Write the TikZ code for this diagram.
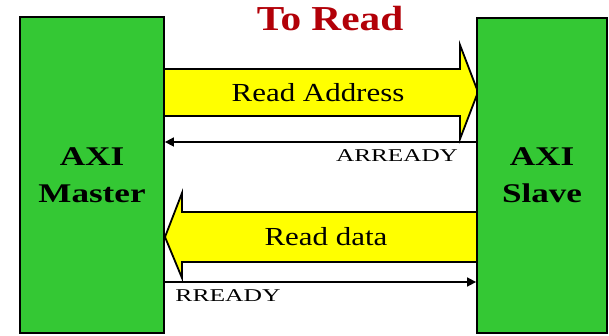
\documentclass[tikz,border=0pt]{standalone}
\usepackage{fontspec}
\setmainfont{Liberation Serif}
\usetikzlibrary{arrows.meta,calc}
\definecolor{boxgreen}{RGB}{52,200,52}
\definecolor{titlered}{RGB}{178,0,8}
\definecolor{fatyellow}{RGB}{255,255,0}
\tikzset{
  unit/.style={draw=black, line width=1.8pt, fill=boxgreen, inner sep=0pt,
    align=center, font=\bfseries\fontsize{27}{37}\selectfont},
  fatarrow/.style={draw=black, line width=1.8pt, fill=fatyellow, line join=miter},
  fatlabel/.style={font=\fontsize{26}{30}\selectfont, inner sep=0pt},
  signal/.style={draw=black, line width=1.6pt, -{Triangle[length=9pt,width=9pt]}},
  siglabel/.style={font=\fontsize{18}{20}\selectfont, inner sep=0pt},
}
\begin{document}
\begin{tikzpicture}[x=1pt,y=-1pt]
\useasboundingbox (0,0) rectangle (609,336);
% fat arrows (behind boxes)
\coordinate (ra1) at (165,69);
\coordinate (ra2) at (460,69);
\coordinate (ra3) at (460,45);
\coordinate (ra4) at (478,92);
\coordinate (ra5) at (460,139);
\coordinate (ra6) at (460,116);
\coordinate (ra7) at (165,116);
\draw[fatarrow] (ra1) -- (ra2) -- (ra3) -- (ra4) -- (ra5) -- (ra6) -- (ra7);
\coordinate (rd1) at (477,212);
\coordinate (rd2) at (182,212);
\coordinate (rd3) at (182,193);
\coordinate (rd4) at (165,237);
\coordinate (rd5) at (182,278);
\coordinate (rd6) at (182,262);
\coordinate (rd7) at (477,262);
\draw[fatarrow] (rd1) -- (rd2) -- (rd3) -- (rd4) -- (rd5) -- (rd6) -- (rd7);
% boxes
\node[unit, minimum width=144pt, minimum height=316pt] (master) at (92,175)
  {\scalebox{1.3}[1]{AXI}\\\scalebox{1.3}[1]{Master}};
\node[unit, minimum width=130pt, minimum height=315pt] (slave) at (542,175.5)
  {\scalebox{1.3}[1]{AXI}\\\scalebox{1.3}[1]{Slave}};
% title
\node[font=\bfseries\fontsize{35}{40}\selectfont, text=titlered, inner sep=0pt] (title) at (330,19)
  {\scalebox{1.18}[1]{To Read}};
% fat arrow labels
\node[fatlabel] (ralabel) at (318,93) {\scalebox{1.19}[1]{Read Address}};
\node[fatlabel] (rdlabel) at (326,237) {\scalebox{1.19}[1]{Read data}};
% handshake signals
\draw[signal] (slave.west |- 0,142) -- (master.east |- 0,142);
\draw[signal] (master.east |- 0,282) -- (slave.west |- 0,282);
\node[siglabel] (arready) at (397,156) {\scalebox{1.4}[1]{ARREADY}};
\node[siglabel] (rready) at (228,296) {\scalebox{1.42}[1]{RREADY}};
\end{tikzpicture}
\end{document}
